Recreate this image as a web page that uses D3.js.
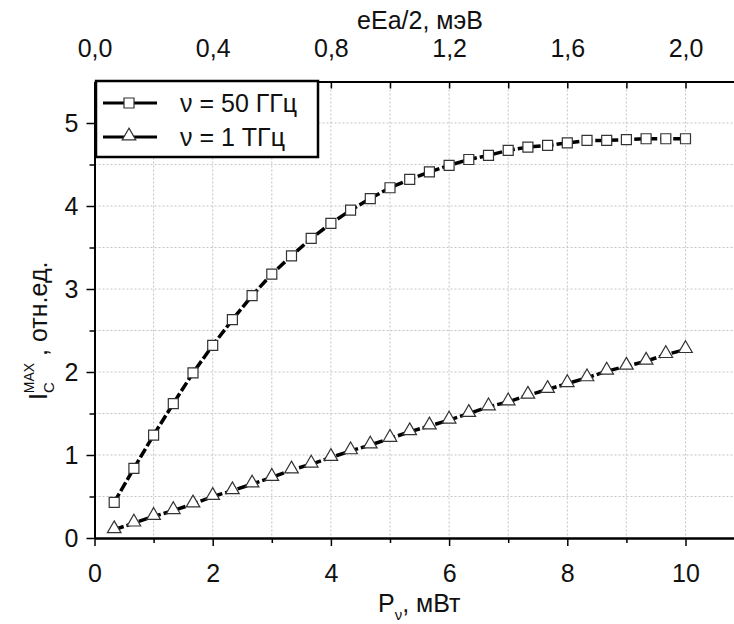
<!DOCTYPE html>
<html>
<head>
<meta charset="utf-8">
<script src="https://cdn.jsdelivr.net/npm/d3@7"></script>
<style>
  body { margin: 0; background: #fff; }
  svg { font-family: "Liberation Sans", Arial, sans-serif; display: block; }
</style>
</head>
<body>
<div id="chart"></div>
<script>
// x = P, mW (k/3, k = 1..30)
const xVals = d3.range(1, 31).map(k => k / 3);
const series50GHz = [0.43, 0.84, 1.24, 1.62, 1.99, 2.32, 2.63, 2.92, 3.18, 3.40,
  3.61, 3.79, 3.95, 4.09, 4.22, 4.32, 4.41, 4.49, 4.56, 4.61,
  4.67, 4.71, 4.73, 4.76, 4.79, 4.79, 4.80, 4.81, 4.81, 4.81];
const series1THz = [0.10, 0.18, 0.26, 0.33, 0.41, 0.50, 0.57, 0.65, 0.73, 0.82,
  0.89, 0.97, 1.05, 1.12, 1.20, 1.28, 1.35, 1.42, 1.50, 1.58,
  1.64, 1.72, 1.79, 1.86, 1.93, 2.01, 2.07, 2.13, 2.21, 2.27];
const bottomTicks = [0, 2, 4, 6, 8, 10];
const topTicks = [0, 0.4, 0.8, 1.2, 1.6, 2.0];
const leftTicks = [0, 1, 2, 3, 4, 5];
const legendLabels = ["ν = 50 ГГц", "ν = 1 ТГц"];

const width = 734, height = 624;
const plotLeft = 94.5, plotTop = 81.5, plotBottom = 538;
const fs = 25;

const svg = d3.select("#chart").append("svg")
  .attr("width", width)
  .attr("height", height);

const x = d3.scaleLinear().domain([0, 11]).range([plotLeft, plotLeft + 11 * 59.1]);
const xTop = d3.scaleLinear().domain([0, 2.2]).range(x.range());
const y = d3.scaleLinear().domain([0, 5.5]).range([plotBottom, plotTop]);

const plotRight = x.range()[1];
const comma = d => d3.format(".1f")(d).replace(".", ",");

// grid
const grid = svg.append("g")
  .attr("stroke", "#c4c4c4")
  .attr("stroke-width", 1)
  .attr("stroke-dasharray", "2,2");
grid.selectAll(".gx").data(d3.range(1, 11))
  .enter().append("line")
  .attr("x1", d => x(d)).attr("x2", d => x(d))
  .attr("y1", plotTop).attr("y2", plotBottom);
grid.selectAll(".gy").data(d3.range(0.5, 5.5, 0.5))
  .enter().append("line")
  .attr("y1", d => y(d)).attr("y2", d => y(d))
  .attr("x1", plotLeft).attr("x2", plotRight);

// axes
svg.append("g")
  .attr("transform", `translate(0,${plotBottom})`)
  .call(d3.axisBottom(x).tickValues(bottomTicks).tickSize(8).tickSizeOuter(0).tickPadding(18));
svg.append("g")
  .attr("transform", `translate(0,${plotBottom})`)
  .call(d3.axisBottom(x).tickValues(d3.range(1, 11, 2)).tickSize(5).tickSizeOuter(0).tickFormat(""));

svg.append("g")
  .attr("transform", `translate(${plotLeft},0)`)
  .call(d3.axisLeft(y).tickValues(leftTicks).tickSize(8).tickSizeOuter(0).tickPadding(8).tickFormat(d3.format("d")));
svg.append("g")
  .attr("transform", `translate(${plotLeft},0)`)
  .call(d3.axisLeft(y).tickValues(d3.range(0.5, 5.5, 1)).tickSize(5).tickSizeOuter(0).tickFormat(""));

svg.append("g")
  .attr("transform", `translate(0,${plotTop})`)
  .call(d3.axisTop(xTop).tickValues(topTicks).tickSize(0).tickSizeOuter(0).tickPadding(25).tickFormat(comma));
svg.append("g")
  .attr("transform", `translate(0,${plotTop})`)
  .call(d3.axisBottom(xTop).tickValues(d3.range(0.2, 2.2, 0.2)).tickSize(7).tickSizeOuter(0).tickFormat(""));

svg.selectAll(".domain").attr("stroke", "#000").attr("stroke-width", 2);
svg.selectAll(".tick line").attr("stroke", "#000").attr("stroke-width", 1.5);
svg.selectAll(".tick text")
  .attr("font-size", fs)
  .attr("font-family", "Liberation Sans, Arial, sans-serif")
  .attr("fill", "#111");

// series lines + markers
const line = d3.line().x(d => x(d[0])).y(d => y(d[1]));
const data50 = xVals.map((v, i) => [v, series50GHz[i]]);
const data1T = xVals.map((v, i) => [v, series1THz[i]]);

[data50, data1T].forEach(dd => {
  svg.append("path")
    .datum(dd)
    .attr("d", line)
    .attr("fill", "none")
    .attr("stroke", "#000")
    .attr("stroke-width", 3.5)
    .attr("stroke-dasharray", "10,3");
});

const square = d3.symbol().type(d3.symbolSquare).size(100);
const triangle = d3.symbol().type(d3.symbolTriangle).size(80);

svg.selectAll(".sq").data(data50).enter().append("path")
  .attr("d", square)
  .attr("transform", d => `translate(${x(d[0])},${y(d[1])})`)
  .attr("fill", "#fff").attr("stroke", "#333").attr("stroke-width", 1.2);

svg.selectAll(".tr").data(data1T).enter().append("path")
  .attr("d", triangle)
  .attr("transform", d => `translate(${x(d[0])},${y(d[1]) - 1})`)
  .attr("fill", "#fff").attr("stroke", "#333").attr("stroke-width", 1.2);

// legend
const lg = svg.append("g");
lg.append("rect")
  .attr("x", 96).attr("y", 81).attr("width", 222).attr("height", 76)
  .attr("fill", "#fff").attr("stroke", "#000").attr("stroke-width", 2.5);
legendLabels.forEach((lab, i) => {
  const ly = 103 + i * 34;
  lg.append("line").attr("x1", 103).attr("x2", 157).attr("y1", ly).attr("y2", ly)
    .attr("stroke", "#000").attr("stroke-width", 3);
  lg.append("path")
    .attr("d", i === 0 ? square : triangle)
    .attr("transform", `translate(129,${ly - (i === 0 ? 0 : 1)})`)
    .attr("fill", "#fff").attr("stroke", "#333").attr("stroke-width", 1.2);
  lg.append("text")
    .attr("x", 180).attr("y", ly + 9)
    .attr("font-size", fs).attr("fill", "#111")
    .text(lab);
});

// titles
svg.append("text")
  .attr("x", 420).attr("y", 29)
  .attr("text-anchor", "middle")
  .attr("font-size", fs).attr("fill", "#111")
  .text("eEa/2, мэВ");

const xt = svg.append("text")
  .attr("x", 378).attr("y", 612)
  .attr("font-size", fs).attr("fill", "#111");
xt.append("tspan").text("P");
xt.append("tspan").attr("font-size", 15).attr("dy", 8).text("ν");
xt.append("tspan").attr("dy", -8).text(", мВт");

const yt = svg.append("text")
  .attr("transform", "translate(47,400) rotate(-90)")
  .attr("font-size", fs).attr("fill", "#111");
yt.append("tspan").text("I");
yt.append("tspan").attr("font-size", 15).attr("dy", 7).text("C");
yt.append("tspan").attr("font-size", 14).attr("dx", -11).attr("dy", -20).text("MAX");
yt.append("tspan").attr("dy", 13).text(" , отн.ед.");
</script>
</body>
</html>
